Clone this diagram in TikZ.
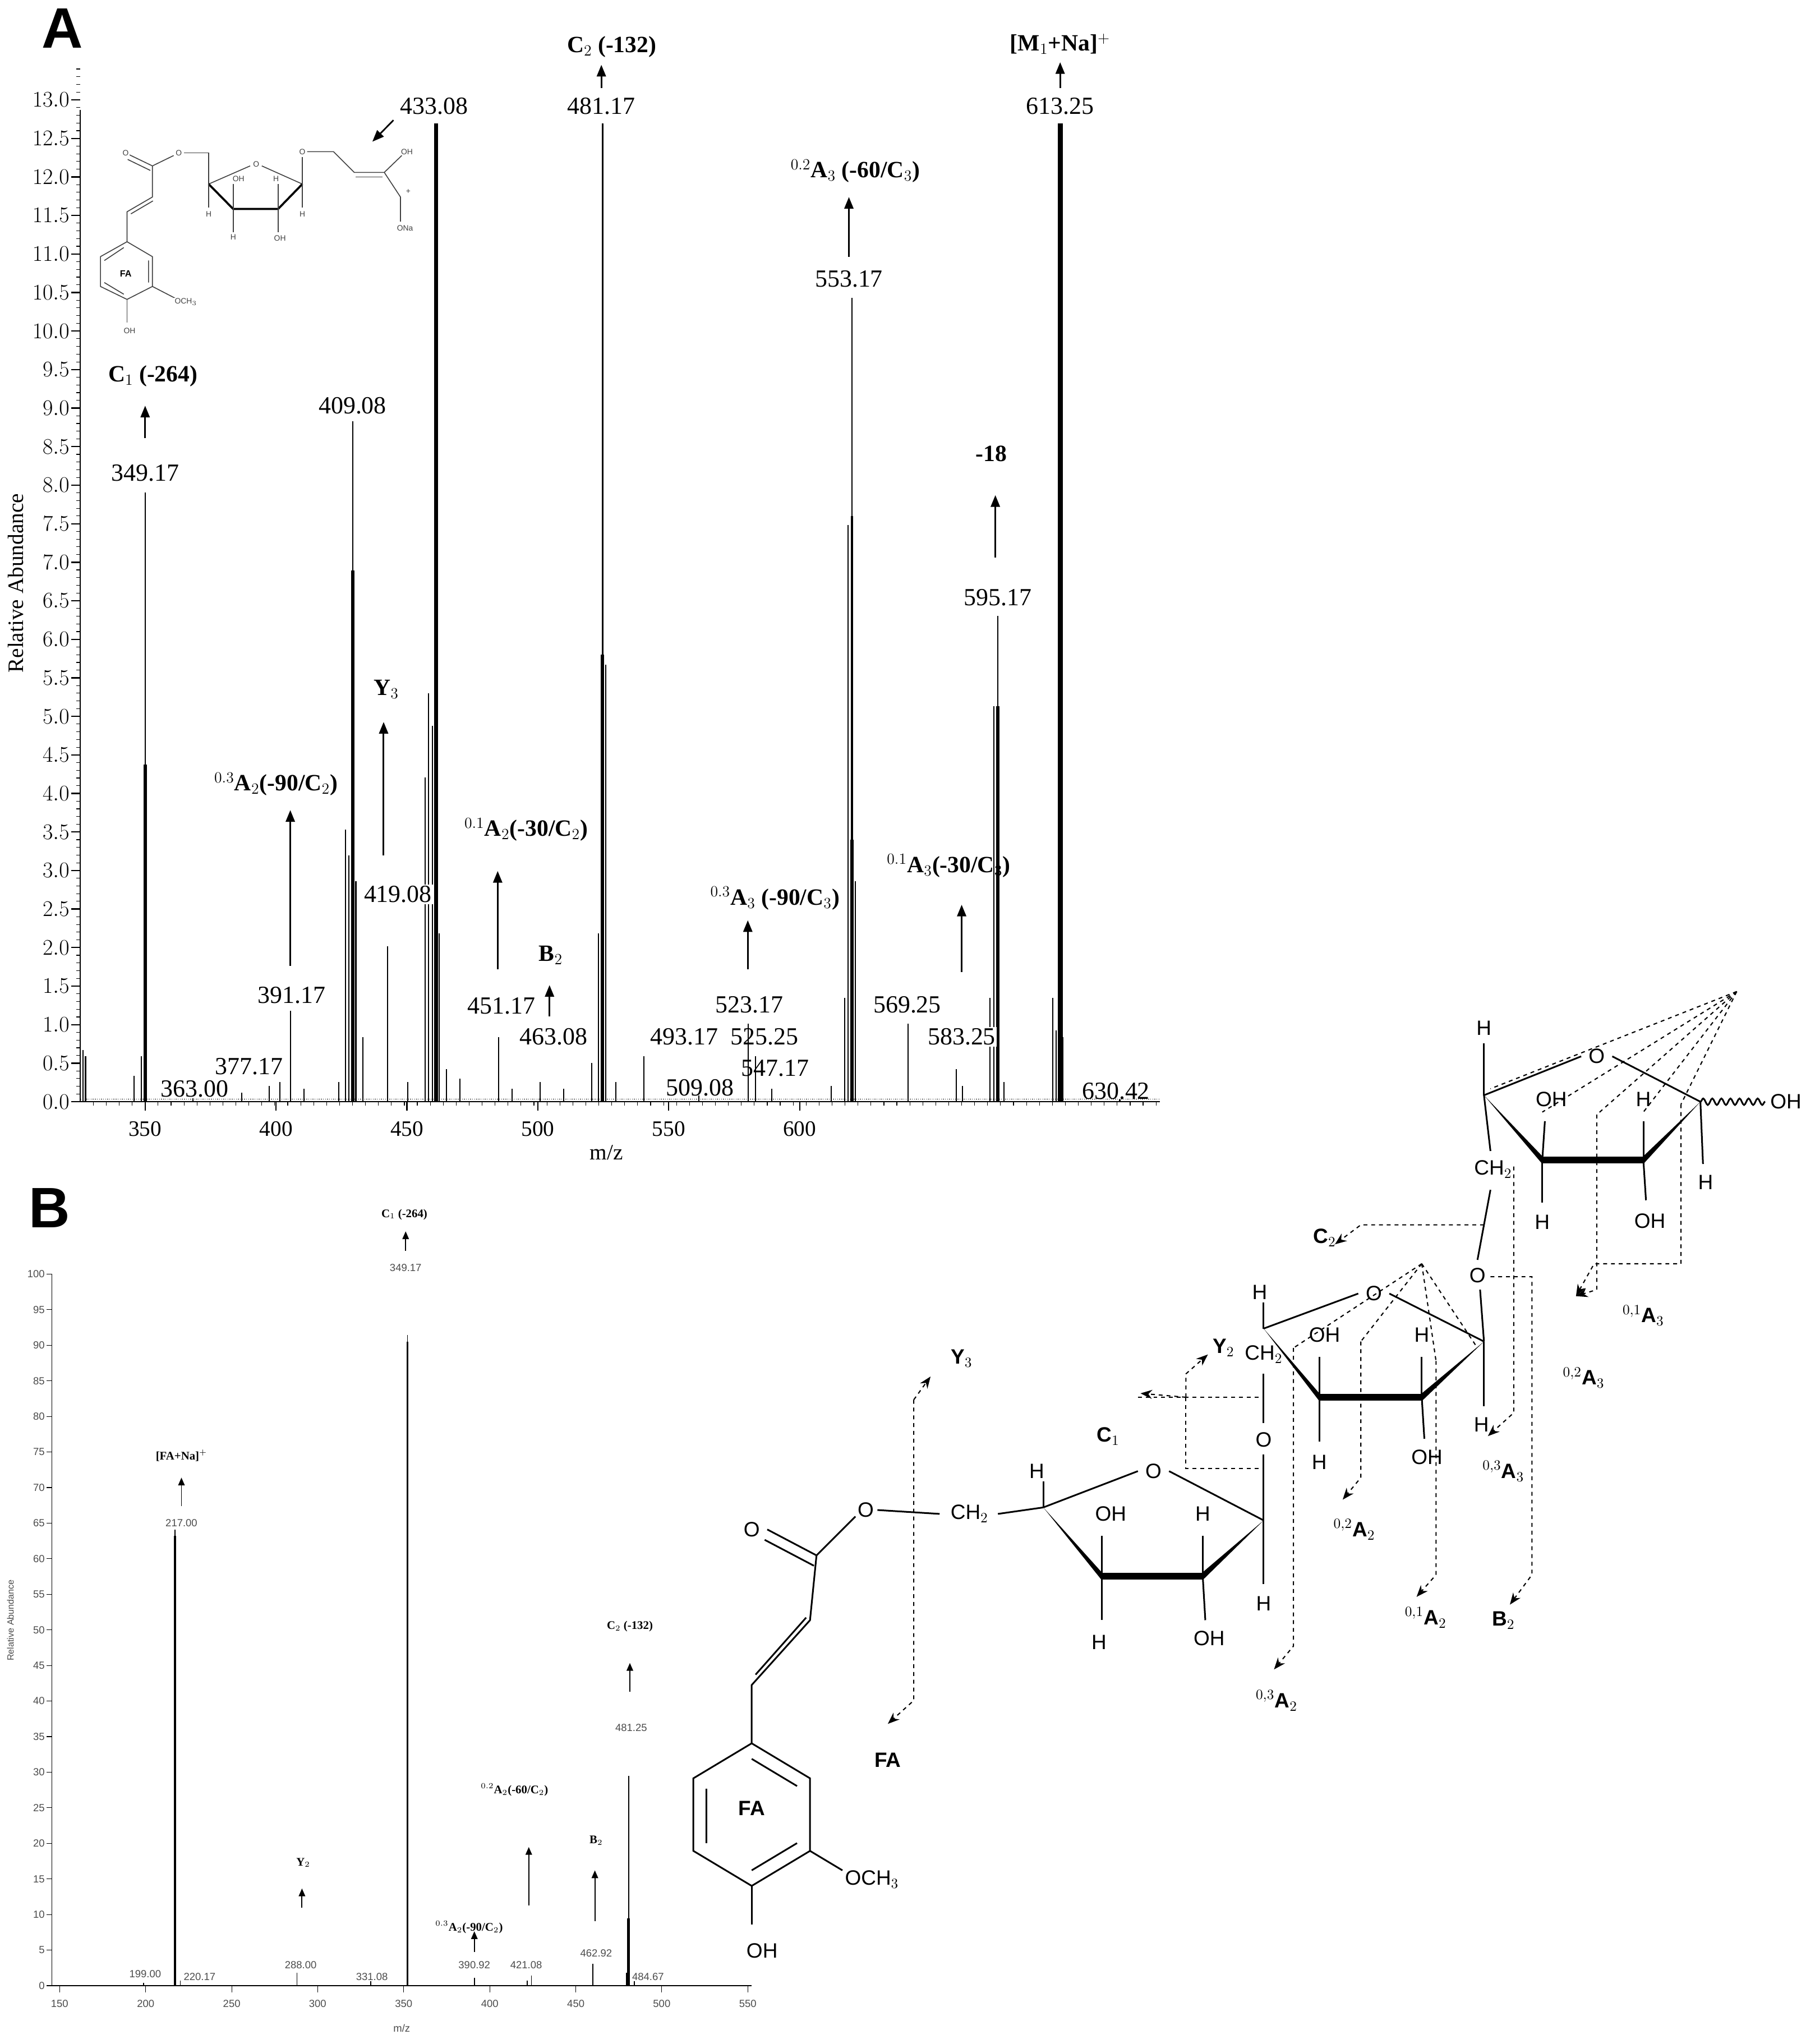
\documentclass[tikz,border=0pt]{standalone}
\usepackage{fontspec}
\setmainfont{Liberation Serif}
\newfontfamily\sfn{Liberation Sans}
\usetikzlibrary{arrows.meta,decorations.pathmorphing}
\begin{document}
\begin{tikzpicture}[x=1pt,y=-1pt,line width=1pt,
 lab/.style={font=\fontsize{19}{21}\selectfont},
 tlab/.style={font=\fontsize{17}{19}\selectfont},
 blab/.style={font=\bfseries\fontsize{18}{20}\selectfont},
 sl/.style={font=\fontsize{8}{9}\selectfont\sfn,text=black!70},
 il/.style={font=\fontsize{6}{7}\selectfont\sfn,text=black!75,inner sep=0.5pt,fill=white},
 sb/.style={font=\bfseries\fontsize{9}{10}\selectfont},
 st/.style={font=\sfn\fontsize{16}{18}\selectfont},
 stb/.style={font=\sfn\bfseries\fontsize{16}{18}\selectfont},
 ar/.style={-{Triangle[length=9pt,width=7pt]},line width=1.3pt},
 arb/.style={-{Triangle[length=6pt,width=5pt]},line width=0.8pt},
 dsh/.style={dashed,line width=0.9pt},
 dar/.style={dashed,line width=0.9pt,-{Stealth[length=9pt,width=7pt]}}]
\useasboundingbox (0,0) rectangle (1400,1577);
% ================= PANEL A
\node[font=\sfn\bfseries\fontsize{44}{44}\selectfont] (pA) at (48,22) {A};
\draw (62,850) -- (895,850);
\draw (62,850) -- (62,85);
\foreach \i in {0,...,26}{
 \pgfmathsetmacro\yy{850-29.73*\i}
 \pgfmathsetmacro\vv{\i*0.5}
 \draw (55,\yy) -- (62,\yy);
 \node[tlab,anchor=east,inner sep=1pt] at (55,\yy) {\pgfmathprintnumber[fixed,precision=1,fixed zerofill]{\vv}};
 \foreach \k in {1,...,4}{\draw[line width=0.5pt] (59,\yy-\k*5.95) -- (62,\yy-\k*5.95);}
}
\foreach \t/\xx in {350/112,400/213,450/314,500/415,550/516,600/617}{
 \draw (\xx,850) -- (\xx,857);
 \node[tlab] at (\xx,871) {\t};}
\foreach \xx in {72,82,...,892}{\draw[line width=0.5pt] (\xx,850) -- (\xx,853);}
\node[tlab] (mzA) at (468,889) {m/z};
\node[tlab,rotate=90] (raA) at (12,450) {Relative Abundance};
% peaks A (x positions precomputed)
\foreach \xx/\t in {64/810,66/815,103.5/830,108.9/815,112/380,149/845,186.4/843,207.8/838,215.8/835,224.3/780,234.5/840,261.3/835,266.6/640,269.3/660,272.2/325,274.6/680,280/800,298.9/730,314.8/835,328.1/600,330.8/535,333.5/560,336.4/95,338.9/720,344.3/825,355/832,384.8/800,395.1/840,416.6/835,435.1/840,456.5/820,461.8/720,465/95,467.2/513,475.2/835,497/815,539.4/845,577.3/790,582.8/815,595.5/840,641.5/838,651.7/770,654.4/405,657.5/230,659.8/680,700.5/790,738/825,742.6/838,764/770,766.7/545,769.8/475,774.7/835,812.2/770,814.9/795,818.2/95,820.2/800,864/848}{
 \draw[line width=0.9pt] (\xx,850) -- (\xx,\t);}
\foreach \xx/\t/\w in {112/590/2.6,272.2/440/2.6,336.4/95/3.2,465/505/2.6,657.5/648/2.6,769.8/545/2.6,818.2/95/3.8}{
 \draw[line width=\w pt] (\xx,850) -- (\xx,\t);}
\draw[line width=1.8pt] (657.5,648) -- (657.5,398);
\draw[line width=0.6pt,densely dotted] (62,848) -- (895,848);
% labels A
\node[lab,fill=white,inner sep=1pt] at (112,365) {349.17};
\draw[ar] (112,338) -- (112,313);
\node[blab] at (118,290) {C$_1$ (-264)};
\node[lab] at (272,313) {409.08};
\node[lab] at (335,82) {433.08};
\node[lab] at (464,82) {481.17};
\draw[ar] (464,68) -- (464,50);
\node[blab] at (472,36) {C$_2$ (-132)};
\node[lab] at (818,82) {613.25};
\draw[ar] (818,68) -- (818,48);
\node[blab] at (818,34) {[M$_1$+Na]$^+$};
\node[lab,fill=white,inner sep=1pt] at (655,215) {553.17};
\draw[ar] (655,198) -- (655,152);
\node[blab] at (660,132) {$^{0.2}$A$_3$ (-60/C$_3$)};
\node[lab,fill=white,inner sep=1pt] at (770,461) {595.17};
\draw[ar] (768,430) -- (768,382);
\node[blab] at (765,350) {-18};
\draw[ar] (224,745) -- (224,625);
\node[blab] at (213,605) {$^{0.3}$A$_2$(-90/C$_2$)};
\node[lab,fill=white,inner sep=1pt] at (225,768) {391.17};
\draw[ar] (296,660) -- (296,557);
\node[blab] at (298,532) {Y$_3$};
\node[lab,fill=white,inner sep=1pt] at (307,690) {419.08};
\draw[ar] (384,748) -- (384,672);
\node[blab] at (406,640) {$^{0.1}$A$_2$(-30/C$_2$)};
\node[lab,fill=white,inner sep=1pt] at (387,776) {451.17};
\draw[ar] (424,784) -- (424,760);
\node[blab] at (425,737) {B$_2$};
\node[lab,fill=white,inner sep=1pt] at (427,800) {463.08};
\node[lab] at (528,800) {493.17};
\draw[ar] (577,748) -- (577,710);
\node[blab] at (598,693) {$^{0.3}$A$_3$ (-90/C$_3$)};
\node[lab,fill=white,inner sep=1pt] at (578,775) {523.17};
\node[lab] at (590,800) {525.25};
\node[lab] at (598,824) {547.17};
\node[lab] at (700,775) {569.25};
\draw[ar] (742,750) -- (742,698);
\node[blab] at (732,668) {$^{0.1}$A$_3$(-30/C$_3$)};
\node[lab,fill=white,inner sep=1pt] at (742,800) {583.25};
\node[lab] at (192,823) {377.17};
\node[lab,fill=white,inner sep=1pt] at (150,840) {363.00};
\node[lab] at (540,839) {509.08};
\node[lab] at (861,842) {630.42};
% inset structure
\begin{scope}[line width=0.7pt,draw=black!75]
\draw (98,186.5) -- (117.6,198) -- (117.6,221) -- (98,231) -- (77.5,221) -- (77.5,198) -- cycle;
\draw (80.5,201) -- (95.5,191) (114.6,201) -- (114.6,218) (80.5,218) -- (95.5,227);
\node[font=\sfn\bfseries\fontsize{7}{8}\selectfont] at (97,211) {FA};
\draw (117.6,221) -- (135,230); \node[il,anchor=west] at (134,233) {OCH$_3$};
\draw (98,231) -- (98,249); \node[il] at (100,255) {OH};
\draw (98,186.5) -- (98,163.4) -- (117.6,152) -- (117.6,128);
\draw (101,165) -- (118,155);
\draw (117.6,128) -- (100,119.5) (116,131.5) -- (98.5,123); \node[il] at (97,118) {O};
\draw (117.6,128) -- (134,120); \node[il] at (138,118) {O};
\draw (142,118) -- (161,118) -- (161,142);
\draw (161,142) -- (193,128) (202,128) -- (233.3,142);
\node[il] at (197.7,126.6) {O};
\draw[line width=1.6pt,draw=black] (161,142) -- (179.9,161.2) -- (214.6,161.2) -- (233.3,142);
\draw (161,142) -- (161,160); \node[il] at (161,165) {H};
\draw (179.9,161.2) -- (179.9,142); \node[il] at (184,138) {OH};
\draw (214.6,161.2) -- (214.6,142); \node[il] at (213,138) {H};
\draw (179.9,161.2) -- (179.9,179); \node[il] at (180,183) {H};
\draw (214.6,161.2) -- (214.6,179); \node[il] at (216,184) {OH};
\draw (233.3,142) -- (233.3,160); \node[il] at (233.3,165) {H};
\draw (233.3,142) -- (233.3,121); \node[il] at (233.3,117) {O};
\draw (237,117) -- (257.3,117) -- (273.3,133) -- (296.5,133) -- (310,120);
\draw (274.5,136.5) -- (295,136.5);
\node[il] at (314,117) {OH};
\draw (296.5,133) -- (309,152) -- (309,171);
\node[il,fill=none] at (315,148) {+};
\node[il] at (312.5,176) {ONa};
\draw[ar,line width=1.2pt,draw=black] (303.6,92.7) -- (287.3,109.3);
\end{scope}
% ================= PANEL B
\node[font=\sfn\bfseries\fontsize{44}{44}\selectfont] (pB) at (38,932) {B};
\draw[line width=0.6pt] (40,1532) -- (580,1532);
\draw[line width=0.6pt] (40,1532) -- (40,983);
\foreach \i in {0,...,20}{
 \pgfmathsetmacro\yy{1532-27.45*\i}
 \pgfmathtruncatemacro\vv{\i*5}
 \draw[line width=0.5pt] (36,\yy) -- (40,\yy);
 \node[sl,anchor=east,inner sep=1pt] at (36,\yy) {\vv};}
\foreach \t/\xx in {150/46,200/112.4,250/178.8,300/245.1,350/311.5,400/377.9,450/444.3,500/510.6,550/577}{
 \draw[line width=0.5pt] (\xx,1532) -- (\xx,1537);
 \node[sl] at (\xx,1546) {\t};}
\node[sl] at (310,1565) {m/z};
\node[sl,rotate=90,font=\sfn\fontsize{7}{8}\selectfont] at (8,1250) {Relative Abundance};
\foreach \xx/\t in {110.9/1530,134.9/1180,139.1/1528,229.2/1522,286.1/1528,314.4/1030,366.1/1526,406.7/1528,410.1/1524,457.5/1515,483.3/1522,485.0/1370,489.5/1528}{
 \draw[line width=0.7pt] (\xx,1532) -- (\xx,\t);}
\draw[line width=2.2pt] (485.0,1532) -- (485.0,1480);
\draw[line width=1.6pt] (134.9,1532) -- (134.9,1185);
\draw[line width=1.6pt] (314.4,1532) -- (314.4,1035);
\node[sb] at (312,937) {C$_1$ (-264)};
\draw[arb] (313,965) -- (313,950);
\node[sl,fill=white,inner sep=1pt] at (313,978) {349.17};
\node[sb] at (140,1123) {[FA+Na]$^+$};
\draw[arb] (140,1162) -- (140,1140);
\node[sl,fill=white,inner sep=1pt] at (140,1175) {217.00};
\node[sb] at (486,1255) {C$_2$ (-132)};
\draw[arb] (486,1305) -- (486,1283);
\node[sl] at (487,1333) {481.25};
\node[sb] at (234,1437) {Y$_2$};
\draw[arb] (233,1472) -- (233,1457);
\node[sb] at (362,1487) {$^{0.3}$A$_2$(-90/C$_2$)};
\draw[arb] (366,1506) -- (366,1490);
\node[sb] at (397,1381) {$^{0.2}$A$_2$(-60/C$_2$)};
\draw[arb] (408,1470) -- (408,1425);
\node[sb] at (460,1420) {B$_2$};
\draw[arb] (459,1482) -- (459,1443);
\foreach \l/\xx/\yy in {199.00/112/1523,220.17/154/1525,288.00/232/1516,331.08/287/1525,390.92/366/1516,421.08/406/1516,462.92/460/1507,484.67/500/1525}{
 \node[sl,fill=white,inner sep=0.5pt] at (\xx,\yy) {\l};}
% ================= STRUCTURE
\begin{scope}[line width=1.3pt]
\draw (580,1345) -- (625,1372) -- (625,1428) -- (580,1455) -- (535,1428) -- (535,1372) -- cycle;
\draw (545,1380) -- (545,1422) (580,1443) -- (615,1422) (580,1357) -- (615,1378);
\node[stb] at (580,1395) {FA};
\draw (625,1428) -- (650,1443); \node[st,anchor=west] at (648,1450) {OCH$_3$};
\draw (580,1455) -- (580,1485); \node[st] at (588,1505) {OH};
\draw (580,1345) -- (580,1300) -- (625,1250) -- (630,1200);
\draw (583,1292) -- (622,1248);
\draw (630,1200) -- (592,1180); \draw (628,1208) -- (590,1188);
\node[st] at (580,1180) {O};
\draw (630,1200) -- (660,1170); \node[st] (eO) at (668,1165) {O};
\draw (677,1165) -- (725,1168); \node[st] (ch1) at (748,1168) {CH$_2$};
\draw (770,1168) -- (805,1163);
% ring 1
\draw (805,1163) -- (878,1135) (902,1135) -- (975,1173);
\node[st] at (890,1135) {O};
\fill (805,1163) -- (850,1213) -- (850,1219) -- cycle;
\fill (975,1173) -- (928,1213) -- (928,1219) -- cycle;
\draw[line width=5pt] (850,1216) -- (928,1216);
\draw (805,1163) -- (805,1143); \node[st] at (800,1135) {H};
\draw (850,1216) -- (850,1185); \node[st] at (857,1168) {OH};
\draw (928,1216) -- (928,1185); \node[st] at (928,1168) {H};
\draw (850,1216) -- (850,1250); \node[st] at (848,1267) {H};
\draw (928,1216) -- (930,1250); \node[st] at (933,1264) {OH};
\draw (975,1173) -- (975,1222); \node[st] at (975,1237) {H};
\draw (975,1173) -- (975,1122); \node[st] at (975,1111) {O};
\draw (975,1098) -- (975,1060);
\node[st] at (975,1045) {CH$_2$};
% ring 2
\draw (975,1025) -- (1048,998) (1072,998) -- (1145,1035);
\node[st] at (1060,998) {O};
\fill (975,1025) -- (1018,1075) -- (1018,1081) -- cycle;
\fill (1145,1035) -- (1097,1075) -- (1097,1081) -- cycle;
\draw[line width=5pt] (1018,1078) -- (1097,1078);
\draw (975,1025) -- (975,1005); \node[st] at (972,997) {H};
\draw (1018,1078) -- (1018,1047); \node[st] at (1022,1030) {OH};
\draw (1097,1078) -- (1097,1047); \node[st] at (1097,1030) {H};
\draw (1018,1078) -- (1018,1112); \node[st] at (1018,1128) {H};
\draw (1097,1078) -- (1099,1110); \node[st] at (1101,1124) {OH};
\draw (1145,1035) -- (1145,1085); \node[st] at (1143,1099) {H};
\draw (1145,1035) -- (1142,995); \node[st] at (1140,984) {O};
\draw (1140,972) -- (1150,918);
\node[st] at (1152,902) {CH$_2$};
% ring 3
\draw (1145,845) -- (1220,815) (1244,815) -- (1312,850);
\node[st] at (1232,815) {O};
\fill (1145,845) -- (1190,892) -- (1190,898) -- cycle;
\fill (1312,850) -- (1268,892) -- (1268,898) -- cycle;
\draw[line width=5pt] (1190,895) -- (1268,895);
\draw (1145,845) -- (1145,805); \node[st] at (1145,793) {H};
\draw (1190,895) -- (1192,865); \node[st] at (1197,848) {OH};
\draw (1268,895) -- (1268,865); \node[st] at (1268,848) {H};
\draw (1190,895) -- (1190,928); \node[st] at (1190,943) {H};
\draw (1268,895) -- (1270,926); \node[st] at (1273,942) {OH};
\draw (1312,850) -- (1314,898); \node[st] at (1316,912) {H};
\draw (1145,845) -- (1150,888);
\draw[decorate,decoration={snake,amplitude=2.5pt,segment length=7pt}] (1312,850) -- (1362,850);
\node[st] at (1378,850) {OH};
\end{scope}
% fragmentation lines
\coordinate (f3) at (1340,765);
\foreach \p in {(1150,840),(1190,858),(1232,860),(1268,858),(1297,852)} \draw[dsh] (f3) -- \p;
\coordinate (f2) at (1097,975);
\foreach \p in {(998,1040),(1050,1035),(1108,1050),(1140,1040)} \draw[dsh] (f2) -- \p;
\draw[dar] (1297,852) -- (1297,975) -- (1230,975) -- (1216,1000);
\node[stb] at (1268,1015) {$^{0,1}$A$_3$};
\draw[dar] (1232,860) -- (1232,995) -- (1216,1000);
\node[stb] at (1222,1063) {$^{0,2}$A$_3$};
\draw[dar] (1168,900) -- (1168,1090) -- (1148,1108);
\node[stb] at (1160,1135) {$^{0,3}$A$_3$};
\draw[dar] (1150,985) -- (1182,985) -- (1182,1215) -- (1165,1238);
\node[stb] at (1160,1250) {B$_2$};
\draw[dar] (1108,1050) -- (1108,1215) -- (1093,1232);
\node[stb] at (1100,1248) {$^{0,1}$A$_2$};
\draw[dar] (1050,1035) -- (1050,1140) -- (1036,1157);
\node[stb] at (1045,1180) {$^{0,2}$A$_2$};
\draw[dar] (998,1040) -- (998,1270) -- (983,1288);
\node[stb] at (985,1312) {$^{0,3}$A$_2$};
\draw[dar] (1145,945) -- (1050,945) -- (1030,960);
\node[stb] at (1022,955) {C$_2$};
\draw[dsh] (878,1078) -- (975,1078);
\draw[dsh] (915,1078) -- (915,1133) -- (975,1133);
\draw[dar] (915,1078) -- (880,1075);
\node[stb] at (855,1108) {C$_1$};
\draw[dar] (915,1078) -- (915,1060) -- (932,1045);
\node[stb] at (944,1040) {Y$_2$};
\draw[dar] (705,1080) -- (718,1062);
\node[stb] at (742,1048) {Y$_3$};
\draw[dar] (705,1080) -- (705,1312) -- (685,1330);
\node[stb] at (685,1358) {FA};
\end{tikzpicture}
\end{document}
